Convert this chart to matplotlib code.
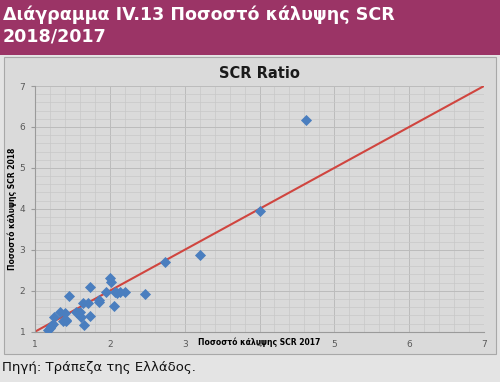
import numpy as np
import matplotlib.pyplot as plt
from matplotlib.patches import Rectangle
from matplotlib.ticker import MultipleLocator

# SCR ratio per insurer: 2017 (x) vs 2018 (y)
scr_2017 = [1.18, 1.20, 1.22, 1.24, 1.26, 1.33, 1.37, 1.40, 1.41, 1.42, 1.45,
            1.55, 1.58, 1.60, 1.62, 1.64, 1.65, 1.71, 1.73, 1.74, 1.85, 1.86,
            1.95, 2.00, 2.02, 2.06, 2.07, 2.10, 2.14, 2.20, 2.47, 2.74, 3.20,
            4.00, 4.62]
scr_2018 = [1.03, 1.08, 1.14, 1.20, 1.37, 1.49, 1.25, 1.45, 1.29, 1.25, 1.86,
            1.49, 1.45, 1.49, 1.37, 1.69, 1.16, 1.69, 1.38, 2.09, 1.78, 1.72,
            1.98, 2.31, 2.22, 1.63, 1.98, 1.94, 1.98, 1.98, 1.91, 2.71, 2.87,
            3.95, 6.17]
diag = [1, 7]

banner_title = "Διάγραμμα IV.13 Ποσοστό κάλυψης SCR\n2018/2017"
source = "Πηγή: Τράπεζα της Ελλάδος."

fig = plt.figure(figsize=(5, 3.82), dpi=100)
fig.patch.set_facecolor('#e4e4e4')

# Title banner
fig.patches.append(Rectangle((0, 1 - 55/382), 1, 55/382, transform=fig.transFigure,
                             facecolor='#9b3466', edgecolor='none', zorder=-2))
fig.text(0.006, 1 - 5/382, banner_title, color='white', fontsize=12.6,
         fontweight='bold', va='top', ha='left', linespacing=1.3)

# Chart frame
fig.patches.append(Rectangle((4/500, 1 - 354/382), 492/500, 297/382, transform=fig.transFigure,
                             facecolor='#dadada', edgecolor='#a8a8a8', lw=0.8, zorder=-2))

ax = fig.add_axes([35/500, 1 - 331.7/382, 449/500, 245.7/382])
ax.set_facecolor('#dadada')
ax.set_xlim(1, 7)
ax.set_ylim(1, 7)
ax.xaxis.set_major_locator(MultipleLocator(1))
ax.yaxis.set_major_locator(MultipleLocator(1))
ax.xaxis.set_minor_locator(MultipleLocator(0.2))
ax.yaxis.set_minor_locator(MultipleLocator(0.2))
ax.grid(which='major', color='#bcbcbc', lw=0.7)
ax.grid(which='minor', color='#c8c8c8', lw=0.5)
ax.set_axisbelow(True)
for side in ['top', 'right']:
    ax.spines[side].set_visible(False)
for side in ['left', 'bottom']:
    ax.spines[side].set_color('#9a9a9a')
ax.tick_params(which='both', length=0, labelsize=6.5, labelcolor='#595959', pad=6)
ax.tick_params(axis='y', which='major', length=3, color='#9a9a9a', pad=4)

ax.plot(diag, diag, color='#d0453f', lw=1.5, zorder=2)
ax.scatter(scr_2017, scr_2018, marker='D', s=32, color='#4a7ebf', zorder=3, linewidths=0)

ax.set_title('SCR Ratio', fontsize=10.5, fontweight='bold', color='#1a1a1a', pad=6)
ax.set_ylabel('Ποσοστό κάλυψης SCR 2018', fontsize=5.5, fontweight='bold', labelpad=2)
ax.set_xlabel('Ποσοστό κάλυψης SCR 2017', fontsize=5.5, fontweight='bold', labelpad=-8)

fig.text(0.004, 1 - 367/382, source, fontsize=9.5, va='center', ha='left', color='#111111')

fig.savefig('out.png', dpi=100, facecolor=fig.get_facecolor())
